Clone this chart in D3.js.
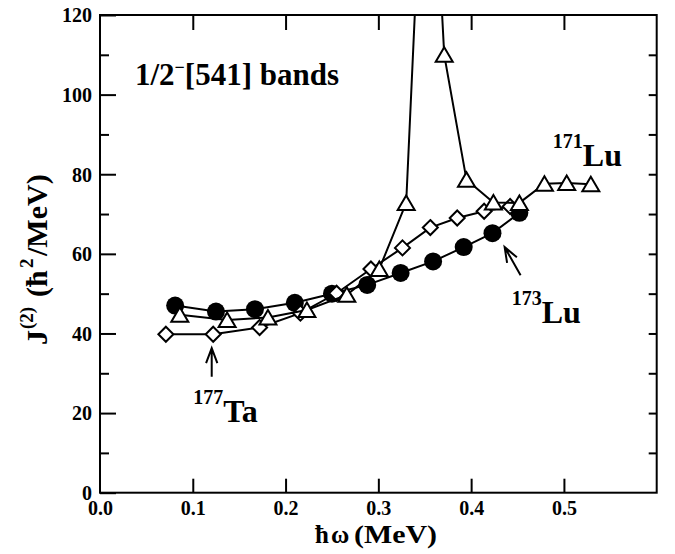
<!DOCTYPE html>
<html><head><meta charset="utf-8">
<script src="https://cdn.jsdelivr.net/npm/d3@7"></script>
<style>
body{margin:0;background:#fff}
svg{display:block}
text{font-family:"Liberation Serif","Times New Roman",serif;font-weight:bold;fill:#000}
</style>
</head><body>
<svg id="c" width="675" height="554"></svg>
<script>
// ---- data ----
const xTicks = [0.0, 0.1, 0.2, 0.3, 0.4, 0.5];
const yTicks = [0, 20, 40, 60, 80, 100, 120];
const yMinorTicks = [10, 30, 50, 70, 90, 110];
const yRightTicks = [10, 20, 30, 40, 50, 60, 70, 80, 90, 100, 110];

// 173Lu (filled circles)
const lu173X = [0.081, 0.125, 0.167, 0.210, 0.250, 0.288, 0.324, 0.359, 0.392, 0.423, 0.452];
const lu173Y = [47.0, 45.5, 46.1, 47.7, 50.0, 52.2, 55.2, 58.1, 61.7, 65.2, 70.3];
// 177Ta (open diamonds)
const ta177X = [0.071, 0.122, 0.172, 0.216, 0.255, 0.292, 0.326, 0.356, 0.385, 0.414, 0.442];
const ta177Y = [39.8, 39.8, 41.5, 45.1, 50.1, 56.2, 61.5, 66.6, 69.0, 70.7, 71.9];
// 171Lu (open triangles)
const lu171X = [0.086, 0.137, 0.181, 0.223, 0.266, 0.301, 0.330, 0.353, 0.371, 0.395, 0.424, 0.452, 0.479, 0.503, 0.529];
const lu171Y = [44.7, 43.4, 44.0, 45.9, 49.7, 56.2, 72.8, 190, 110.0, 78.6, 72.9, 72.8, 77.6, 77.8, 77.5];

// labels (text, anchor in data coords)
const labelMass = ["177", "173", "171"];
const labelElem = ["Ta", "Lu", "Lu"];
const labelX = [0.1006, 0.4437, 0.488];
const labelY = [17.85, 42.6, 82.0];
// arrows [from -> to] in data coords
const arrowFromX = [0.1204, 0.4533];
const arrowFromY = [29.1, 54.6];
const arrowToX = [0.1204, 0.4361];
const arrowToY = [36.3, 61.7];

// ---- layout ----
const L = 100, T = 15, R = 656.7, B = 492.7;
const svg = d3.select("#c");
const x = d3.scaleLinear().domain([0, 0.6]).range([L, R]);
const y = d3.scaleLinear().domain([0, 120]).range([B, T]);

svg.append("defs").append("clipPath").attr("id", "clip")
  .append("rect").attr("x", L).attr("y", T).attr("width", R - L).attr("height", B - T);

function styleAxis(g, keepText) {
  g.attr("font-family", null).attr("font-size", null);
  g.select(".domain").remove();
  g.selectAll(".tick line").attr("stroke", "#000").attr("stroke-width", 2);
  if (!keepText) g.selectAll(".tick text").remove();
  else g.selectAll(".tick text").attr("font-size", 20).attr("fill", "#000");
}

// left axis major
svg.append("g").attr("transform", `translate(${L},0)`)
  .call(d3.axisLeft(y).tickValues(yTicks).tickSizeInner(-16).tickSizeOuter(0).tickPadding(8).tickFormat(d3.format("d")))
  .call(g => styleAxis(g, true))
  .call(g => g.selectAll(".tick text").attr("dy", "0.34em"));
svg.append("g").attr("transform", `translate(${L},0)`)
  .call(d3.axisLeft(y).tickValues(yMinorTicks).tickSizeInner(-9).tickSizeOuter(0))
  .call(g => styleAxis(g, false));
// right axis
svg.append("g").attr("transform", `translate(${R},0)`)
  .call(d3.axisRight(y).tickValues(yRightTicks).tickSizeInner(-8).tickSizeOuter(0))
  .call(g => styleAxis(g, false));
// bottom axis
svg.append("g").attr("transform", `translate(0,${B})`)
  .call(d3.axisBottom(x).tickValues(xTicks).tickSizeInner(-14).tickSizeOuter(0).tickPadding(8).tickFormat(d3.format(".1f")))
  .call(g => styleAxis(g, true))
  .call(g => g.selectAll(".tick line").filter(d => d === 0).remove());
// top axis
svg.append("g").attr("transform", `translate(0,${T})`)
  .call(d3.axisTop(x).tickValues(xTicks.filter(d => d > 0)).tickSizeInner(-15).tickSizeOuter(0))
  .call(g => styleAxis(g, false));

// frame
svg.append("rect").attr("x", L).attr("y", T).attr("width", R - L).attr("height", B - T)
  .attr("fill", "none").attr("stroke", "#000").attr("stroke-width", 2);

// series
const line = d3.line().x(d => x(d[0])).y(d => y(d[1]));
const plot = svg.append("g").attr("clip-path", "url(#clip)");

function drawSeries(xs, ys, shape) {
  const pts = xs.map((v, i) => [v, ys[i]]);
  plot.append("path").datum(pts).attr("d", line)
    .attr("fill", "none").attr("stroke", "#000").attr("stroke-width", 2);
  const g = plot.append("g");
  pts.forEach(p => {
    const cx = x(p[0]), cy = y(p[1]);
    if (shape === "circle") {
      g.append("circle").attr("cx", cx).attr("cy", cy).attr("r", 9).attr("fill", "#000");
    } else if (shape === "diamond") {
      const h = 7.5;
      g.append("path").attr("d", `M${cx},${cy - h}L${cx + h},${cy}L${cx},${cy + h}L${cx - h},${cy}Z`)
        .attr("fill", "#fff").attr("stroke", "#000").attr("stroke-width", 2);
    } else {
      g.append("path").attr("d", `M${cx},${cy - 7.5}L${cx + 8.5},${cy + 7}L${cx - 8.5},${cy + 7}Z`)
        .attr("fill", "#fff").attr("stroke", "#000").attr("stroke-width", 2).attr("stroke-linejoin", "miter");
    }
  });
}
drawSeries(lu173X, lu173Y, "circle");
drawSeries(ta177X, ta177Y, "diamond");
drawSeries(lu171X, lu171Y, "triangle");

// title
const title = svg.append("text").attr("x", x(0.0377)).attr("y", y(102.3)).attr("font-size", 31);
title.append("tspan").text("1/2");
title.append("tspan").attr("font-size", 18).attr("dy", -12).text("\u2212");
title.append("tspan").attr("dy", 12).text("[541] bands");

// isotope labels
labelMass.forEach((m, i) => {
  const t = svg.append("text").attr("x", x(labelX[i])).attr("y", y(labelY[i])).attr("font-size", 32);
  t.append("tspan").attr("font-size", 20).attr("dy", -18).text(m);
  t.append("tspan").attr("dy", 18).text(labelElem[i]);
});

// arrows
arrowFromX.forEach((fx, i) => {
  const x1 = x(fx), y1 = y(arrowFromY[i]), x2 = x(arrowToX[i]), y2 = y(arrowToY[i]);
  const ang = Math.atan2(y1 - y2, x1 - x2);
  const len = 16, spread = 0.36;
  const a1x = x2 + len * Math.cos(ang + spread), a1y = y2 + len * Math.sin(ang + spread);
  const a2x = x2 + len * Math.cos(ang - spread), a2y = y2 + len * Math.sin(ang - spread);
  svg.append("path")
    .attr("d", `M${x1},${y1}L${x2},${y2}M${a1x},${a1y}L${x2},${y2}L${a2x},${a2y}`)
    .attr("fill", "none").attr("stroke", "#000").attr("stroke-width", 2);
});

// x axis title
svg.append("text").attr("x", 315).attr("y", 542.7).attr("font-size", 25).text("\u0127");
svg.append("text").attr("x", 331).attr("y", 542.7).attr("font-size", 25).attr("font-weight", "normal").text("\u03c9");
svg.append("text").attr("x", 354).attr("y", 542.7).attr("font-size", 25)
  .attr("textLength", 83).attr("lengthAdjust", "spacingAndGlyphs").text("(MeV)");

// y axis title (rotated)
const yt = svg.append("g").attr("transform", "translate(47,0) rotate(-90)");
yt.append("text").attr("x", -345).attr("y", 0).attr("font-size", 30).text("J");
yt.append("text").attr("x", -329).attr("y", -14).attr("font-size", 19).text("(2)");
yt.append("text").attr("x", -297).attr("y", 0).attr("font-size", 30).text("(\u0127");
yt.append("text").attr("x", -268).attr("y", -14).attr("font-size", 19).text("2");
yt.append("text").attr("x", -256).attr("y", 0).attr("font-size", 30).text("/MeV)");
</script>
</body></html>
